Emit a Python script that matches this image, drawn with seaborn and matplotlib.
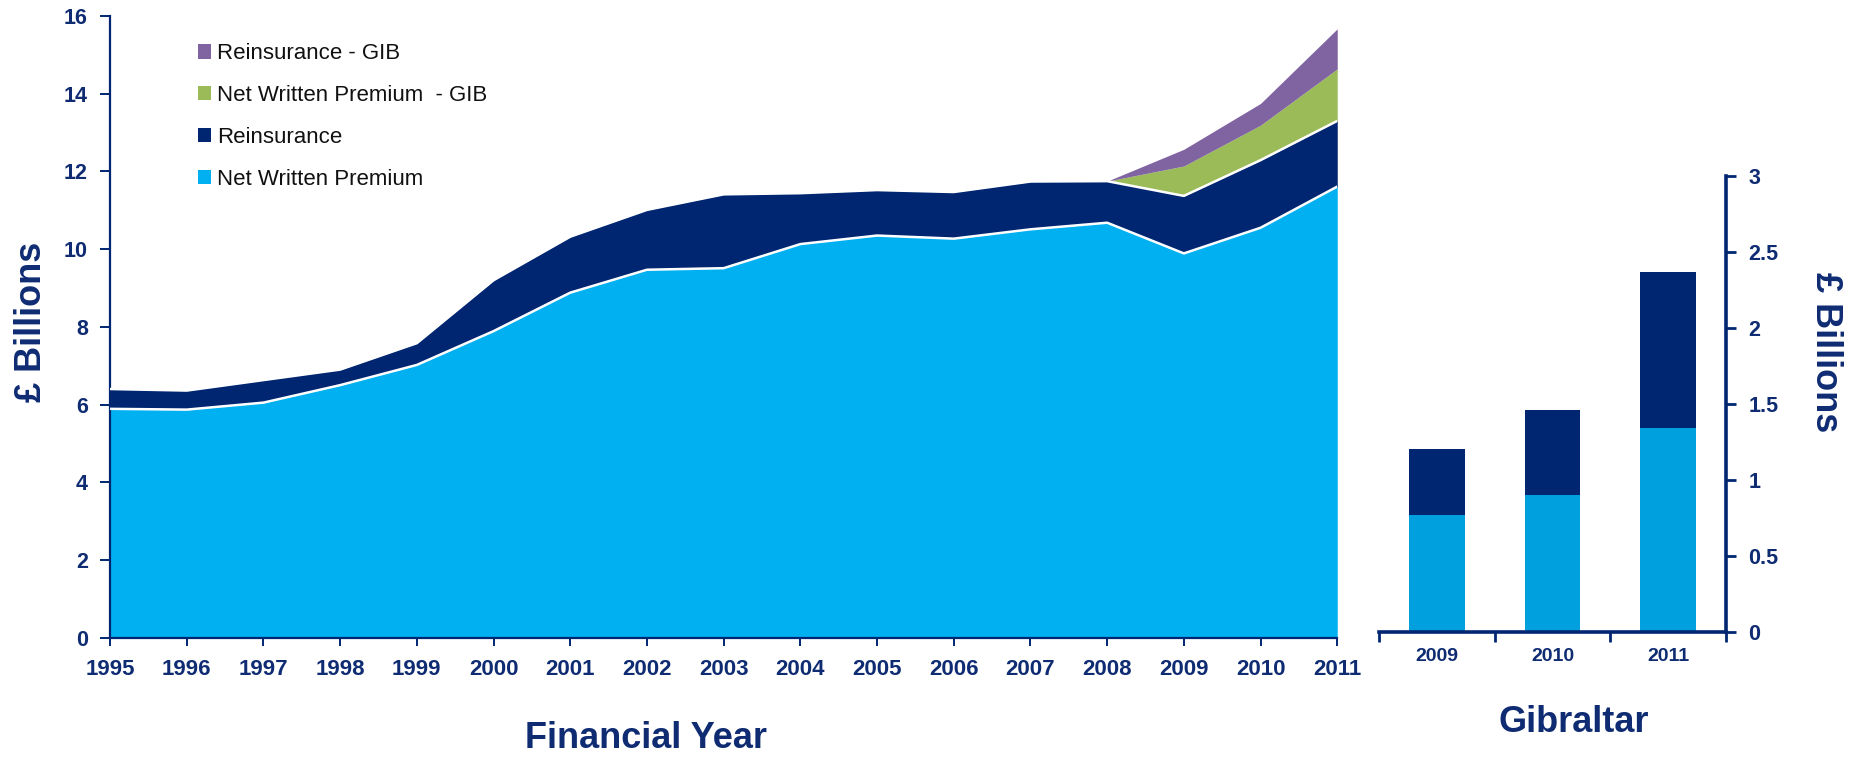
import numpy as np
import pandas as pd
import matplotlib
matplotlib.use("Agg")
import matplotlib.pyplot as plt
from matplotlib.patches import Patch
from matplotlib.ticker import FixedLocator
import seaborn as sns

# ---- data (GBP billions) ----
years = list(range(1995, 2012))
net_written_premium = [5.89, 5.87, 6.05, 6.50, 7.02, 7.89, 8.88, 9.47, 9.51,
                       10.13, 10.35, 10.27, 10.51, 10.68, 9.89, 10.55, 11.61]
reinsurance = [0.51, 0.49, 0.58, 0.40, 0.56, 1.31, 1.44, 1.54, 1.90,
               1.31, 1.17, 1.20, 1.23, 1.07, 1.48, 1.74, 1.69]

gib_years = ["2009", "2010", "2011"]
gib_net_written_premium = [0.77, 0.90, 1.34]
gib_reinsurance = [0.43, 0.56, 1.03]

# Gibraltar series padded with zeros for the years before it starts
gib_nwp_full = [0.0] * (len(years) - len(gib_years)) + gib_net_written_premium
gib_re_full = [0.0] * (len(years) - len(gib_years)) + gib_reinsurance

# ---- styling ----
NAVY_TEXT = "#0F2C73"
NAVY = "#002672"
LIGHT_BLUE = "#00B0F0"
BAR_BLUE = "#00A0DE"
GREEN = "#9BBB59"
PURPLE = "#8064A2"

sns.set_theme(style="white")
plt.rcParams["font.family"] = ["Liberation Sans", "DejaVu Sans"]

fig = plt.figure(figsize=(18.56, 7.58), dpi=100)

# ---- main stacked area chart ----
ax = fig.add_axes([0.0593, 0.1587, 0.6612, 0.8202])
ax.stackplot(years, net_written_premium, reinsurance, gib_nwp_full, gib_re_full,
             colors=[LIGHT_BLUE, NAVY, GREEN, PURPLE], linewidth=0)

nwp_top = np.array(net_written_premium)
re_top = nwp_top + np.array(reinsurance)
sns.lineplot(x=years, y=re_top, ax=ax, color="white", lw=1.8, zorder=3)
sns.lineplot(x=years, y=nwp_top, ax=ax, color="white", lw=1.8, zorder=3)

ax.set_xlim(1995, 2011)
ax.set_ylim(0, 16)
ax.set_xticks(years)
ax.set_yticks(range(0, 17, 2))
ax.set_xlabel("")
ax.set_ylabel("")
for side in ["top", "right"]:
    ax.spines[side].set_visible(False)
for side in ["left", "bottom"]:
    ax.spines[side].set_color(NAVY)
    ax.spines[side].set_linewidth(1.6)
ax.tick_params(axis="x", direction="out", length=6, width=1.4, color=NAVY,
               labelsize=16, labelcolor=NAVY_TEXT, pad=9, bottom=True)
ax.tick_params(axis="y", direction="out", length=7, width=1.4, color=NAVY,
               labelsize=15.5, labelcolor=NAVY_TEXT, pad=9, left=True)
for lbl in ax.get_xticklabels() + ax.get_yticklabels():
    lbl.set_fontweight("bold")

handles = [Patch(facecolor=PURPLE, edgecolor="none", label="Reinsurance - GIB"),
           Patch(facecolor=GREEN, edgecolor="none", label="Net Written Premium  - GIB"),
           Patch(facecolor=NAVY, edgecolor="none", label="Reinsurance"),
           Patch(facecolor=LIGHT_BLUE, edgecolor="none", label="Net Written Premium")]
leg = ax.legend(handles=handles, loc="upper left", bbox_to_anchor=(0.0717, 0.956),
                frameon=False, fontsize=16, handlelength=0.6, handleheight=0.6,
                handletextpad=0.25, labelspacing=0.94, borderpad=0, borderaxespad=0)
for t in leg.get_texts():
    t.set_color("#111111")

fig.text(32 / 1856, 1 - 322 / 758, "£ Billions", rotation=90, ha="center", va="center",
         fontsize=26, fontweight="bold", color=NAVY_TEXT)
fig.text(646 / 1856, 1 - 739 / 758, "Financial Year", ha="center", va="center",
         fontsize=26, fontweight="bold", color=NAVY_TEXT)

# ---- Gibraltar stacked bars ----
ax2 = fig.add_axes([0.743, 0.1666, 0.187, 0.6012])
gib = pd.DataFrame({"year": gib_years,
                    "nwp": gib_net_written_premium,
                    "total": np.array(gib_net_written_premium) + np.array(gib_reinsurance)})
sns.barplot(data=gib, x="year", y="total", color=NAVY, width=0.48, ax=ax2,
            saturation=1, linewidth=0)
sns.barplot(data=gib, x="year", y="nwp", color=BAR_BLUE, width=0.48, ax=ax2,
            saturation=1, linewidth=0)
ax2.set_xlim(-0.5, 2.5)
ax2.set_ylim(0, 3)
ax2.set_xlabel("")
ax2.set_ylabel("")
ax2.yaxis.tick_right()
ax2.set_yticks([0, 0.5, 1, 1.5, 2, 2.5, 3])
ax2.set_yticklabels(["0", "0.5", "1", "1.5", "2", "2.5", "3"])
ax2.xaxis.set_minor_locator(FixedLocator([-0.5, 0.5, 1.5, 2.5]))
for side in ["top", "left"]:
    ax2.spines[side].set_visible(False)
for side in ["right", "bottom"]:
    ax2.spines[side].set_color(NAVY)
    ax2.spines[side].set_linewidth(2.6)
ax2.tick_params(axis="x", which="major", length=0, labelsize=14, labelcolor=NAVY_TEXT,
                pad=12, bottom=True)
ax2.tick_params(axis="x", which="minor", direction="out", length=7, width=2, color=NAVY,
                bottom=True)
ax2.tick_params(axis="y", direction="out", length=7, width=2, color=NAVY,
                labelsize=15.5, labelcolor=NAVY_TEXT, pad=9, right=True, left=False)
for lbl in ax2.get_xticklabels() + ax2.get_yticklabels():
    lbl.set_fontweight("bold")

fig.text(1826 / 1856, 1 - 352 / 758, "£ Billions", rotation=270, ha="center", va="center",
         fontsize=26, fontweight="bold", color=NAVY_TEXT)
fig.text(1574 / 1856, 1 - 722 / 758, "Gibraltar", ha="center", va="center",
         fontsize=26, fontweight="bold", color=NAVY_TEXT)

fig.savefig("out.png", dpi=100, facecolor="white")
